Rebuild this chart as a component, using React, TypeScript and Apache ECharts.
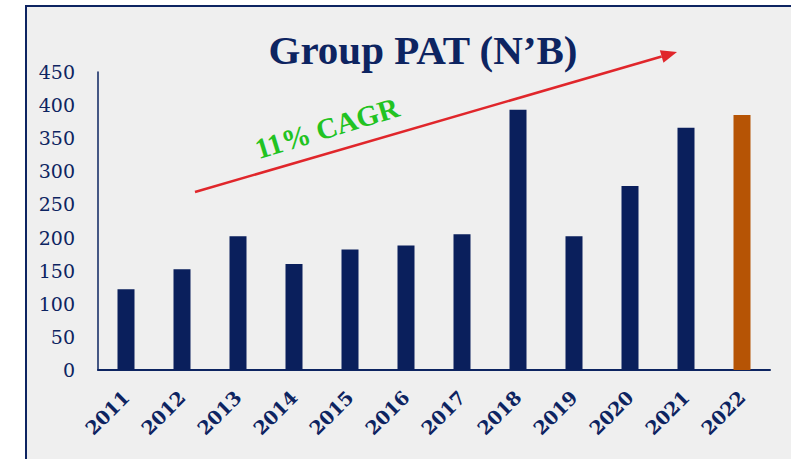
import React, { useEffect, useRef } from "react";
import * as echarts from "echarts";

const years = ["2011", "2012", "2013", "2014", "2015", "2016", "2017", "2018", "2019", "2020", "2021", "2022"];
const patValues = [122, 152, 202, 160, 182, 188, 205, 393, 202, 278, 366, 385];
const highlightYear = "2022";
const yTicks = { min: 0, max: 450, interval: 50 };
const titleText = "Group PAT (N\u2019B)";
const cagrText = "11% CAGR";

const NAVY = "#0a1f5c";
const ORANGE = "#b65405";

export default function App() {
  const ref = useRef<HTMLDivElement>(null);
  useEffect(() => {
    if (!ref.current) return;
    const chart = echarts.init(ref.current, null, { renderer: "svg" });
    // arrow geometry
    const sx = 195, sy = 192, ex = 677, ey = 52;
    const len = Math.hypot(ex - sx, ey - sy);
    const ux = (ex - sx) / len, uy = (ey - sy) / len;
    const headL = 16, headW = 6.5;
    const bx = ex - ux * headL, by = ey - uy * headL;
    const px = -uy, py = ux;
    chart.setOption({
      animation: false,
      backgroundColor: "#ffffff",
      graphic: [
        {
          type: "rect",
          z: -10,
          silent: true,
          shape: { x: 26, y: 6, width: 800, height: 480 },
          style: { fill: "#efefef", stroke: "#0d2461", lineWidth: 2 },
        },
        {
          type: "line",
          z: 10,
          shape: { x1: sx, y1: sy, x2: bx, y2: by },
          style: { stroke: "#e0262b", lineWidth: 2.5 },
        },
        {
          type: "polygon",
          z: 10,
          shape: {
            points: [
              [ex, ey],
              [bx + px * headW, by + py * headW],
              [bx - px * headW, by - py * headW],
            ],
          },
          style: { fill: "#e0262b" },
        },
        {
          type: "text",
          z: 10,
          x: 327,
          y: 128,
          rotation: (17 * Math.PI) / 180,
          style: {
            text: cagrText,
            fill: "#22c322",
            font: "bold 29px 'Liberation Serif'",
            align: "center",
            verticalAlign: "middle",
          },
        },
      ],
      title: {
        text: titleText,
        left: 418,
        top: 24,
        textAlign: "center",
        textStyle: {
          color: "#0d2461",
          fontFamily: "Liberation Serif",
          fontWeight: "bold",
          fontSize: 41,
        },
      },
      grid: { left: 98, right: 21, top: 72, bottom: 89 },
      xAxis: {
        type: "category",
        data: years,
        axisLine: { show: true, lineStyle: { color: "#0d2461", width: 2 } },
        axisTick: { show: false },
        axisLabel: {
          rotate: 45,
          margin: 24,
          color: "#0d2461",
          fontFamily: "DejaVu Serif",
          fontWeight: "bold",
          fontSize: 19,
        },
      },
      yAxis: {
        type: "value",
        min: yTicks.min,
        max: yTicks.max,
        interval: yTicks.interval,
        splitLine: { show: false },
        axisLine: { show: true, lineStyle: { color: "#0d2461", width: 1.5 } },
        axisTick: { show: false },
        axisLabel: {
          margin: 23,
          color: "#0d2461",
          fontFamily: "DejaVu Serif",
          fontSize: 19,
        },
      },
      series: [
        {
          type: "bar",
          barWidth: 17,
          data: patValues.map((v, i) => ({
            value: v,
            itemStyle: { color: years[i] === highlightYear ? ORANGE : NAVY },
          })),
        },
      ],
    });
    return () => chart.dispose();
  }, []);
  return (
    <div
      ref={ref}
      style={{ position: "fixed", left: 0, top: 0, width: 791, height: 459 }}
    />
  );
}
